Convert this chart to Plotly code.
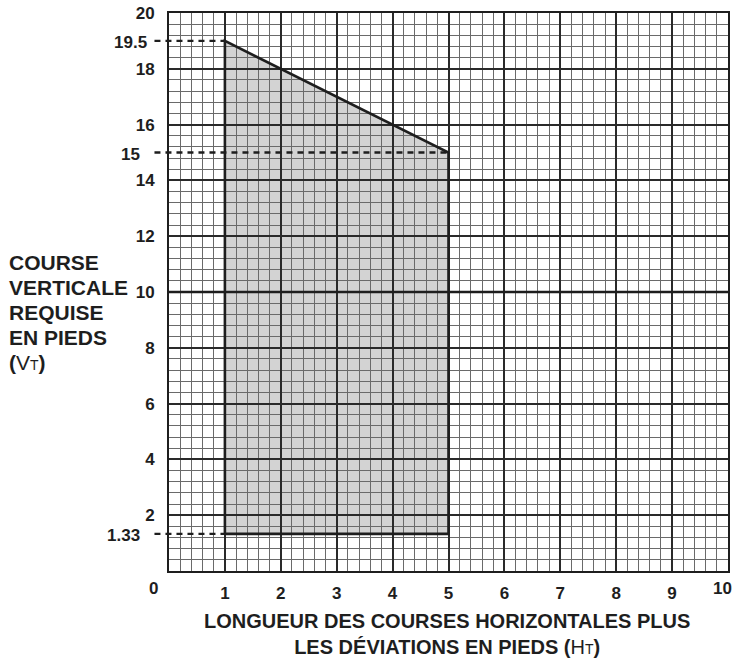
import plotly.graph_objects as go

# ---- data ----
x_tick_vals = [1, 2, 3, 4, 5, 6, 7, 8, 9]
x_tick_text = ["1", "2", "3", "4", "5", "6", "7", "8", "9"]
x_corner_vals = [0, 10]          # end labels, drawn slightly off the corner
x_corner_text = ["0", "10"]
y_tick_vals = [2, 4, 6, 8, 10, 12, 14, 16, 18, 20]
y_tick_text = ["2", "4", "6", "8", "10", "12", "14", "16", "18", "20"]

# allowed zone polygon (HT, VT) as drawn in the picture
zone_ht = [1, 1, 5, 5, 1]
zone_vt = [1.33, 19.0, 15, 1.33, 1.33]

# reference (dashed) levels: drawn position, label, end of dash along HT
ref_vt = [19.0, 15, 1.33]
ref_label = ["19.5", "15", "1.33"]
ref_end_ht = [1, 5, 1]

y_title_lines = ["<b>COURSE</b>", "<b>VERTICALE</b>", "<b>REQUISE</b>", "<b>EN PIEDS</b>",
                 "<b>(</b>V<span style='font-size:14px'>T</span><b>)</b>"]

X_RANGE = [0, 10]
Y_RANGE = [0, 20]

FONT = "Liberation Sans, Arial, Helvetica, sans-serif"
DARK = "#1e1e1e"


def x_to_paper(v):
    return (v - X_RANGE[0]) / (X_RANGE[1] - X_RANGE[0])


fig = go.Figure()

# outline of the zone
fig.add_trace(go.Scatter(
    x=zone_ht, y=zone_vt, mode="lines",
    line=dict(color=DARK, width=2.6),
    hoverinfo="skip", showlegend=False, cliponaxis=False,
))

shapes = []
# filled zone, below the grid
path = "M " + " L ".join(f"{a},{b}" for a, b in zip(zone_ht[:-1], zone_vt[:-1])) + " Z"
shapes.append(dict(type="path", path=path, xref="x", yref="y",
                   fillcolor="#d3d3d3", line=dict(width=0), layer="below"))

# heavier line at VT = 10
shapes.append(dict(type="line", xref="paper", yref="y", x0=0, x1=1, y0=10, y1=10,
                   line=dict(color=DARK, width=2.4), layer="above"))

# dashed reference lines
for v, e in zip(ref_vt, ref_end_ht):
    shapes.append(dict(type="line", xref="paper", yref="y",
                       x0=-0.026, x1=x_to_paper(e), y0=v, y1=v,
                       line=dict(color=DARK, width=2.4, dash="6px,5px"),
                       layer="above"))

TICKFONT = dict(family=FONT, size=17, color=DARK, weight="bold")

annotations = []
label_right = {"19.5": -0.035, "15": -0.049, "1.33": -0.049}
for v, t in zip(ref_vt, ref_label):
    annotations.append(dict(text=t, xref="paper", yref="y", x=label_right[t], y=v,
                            xanchor="right", yanchor="middle", showarrow=False,
                            yshift=-2, font=TICKFONT))

# corner labels of the HT axis
for v, t, s in zip(x_corner_vals, x_corner_text, [-16, -6]):
    annotations.append(dict(text=t, xref="x", yref="paper", x=v, y=0,
                            xanchor="center", yanchor="top", xshift=s, yshift=-6,
                            showarrow=False, font=TICKFONT))

# y-axis title, one line per annotation (25 px line pitch)
n = len(y_title_lines)
for i, line in enumerate(y_title_lines):
    annotations.append(dict(
        text=line, xref="paper", yref="paper", x=-0.289, y=0.4635,
        xanchor="left", yanchor="middle", yshift=(n - 1) / 2 * 25 - i * 25,
        align="left", showarrow=False,
        font=dict(family=FONT, size=21, color=DARK),
    ))

# x-axis title
annotations.append(dict(
    text=("<b>LONGUEUR DES COURSES HORIZONTALES PLUS<br>LES DÉVIATIONS EN PIEDS (</b>H"
          "<span style='font-size:14px'>T</span><b>)</b>"),
    xref="paper", yref="paper", x=0.497, y=0, xanchor="center", yanchor="top",
    yshift=-37, align="center", showarrow=False,
    font=dict(family=FONT, size=20, color=DARK),
))

fig.update_layout(
    width=736, height=662,
    margin=dict(l=169, r=8, t=13, b=91, autoexpand=False),
    paper_bgcolor="white", plot_bgcolor="white",
    shapes=shapes, annotations=annotations,
    showlegend=False,
    font=dict(family=FONT, color=DARK),
)

fig.update_xaxes(
    range=X_RANGE, tickmode="array", tickvals=x_tick_vals, ticktext=x_tick_text,
    showgrid=True, gridcolor="#2a2a2a", gridwidth=1.6,
    minor=dict(tickmode="linear", dtick=0.2, tick0=0, showgrid=True,
               gridcolor="#6a6a6a", gridwidth=1),
    showline=True, linecolor=DARK, linewidth=2, mirror=True,
    ticks="", ticklabelstandoff=6, zeroline=False, automargin=False,
    tickfont=TICKFONT,
)
fig.update_yaxes(
    range=Y_RANGE, tickmode="array", tickvals=y_tick_vals, ticktext=y_tick_text,
    showgrid=True, gridcolor="#2a2a2a", gridwidth=1.6,
    minor=dict(tickmode="linear", dtick=0.4, tick0=0, showgrid=True,
               gridcolor="#6a6a6a", gridwidth=1),
    showline=True, linecolor=DARK, linewidth=2, mirror=True,
    ticks="", ticklabelstandoff=9, zeroline=False, automargin=False,
    tickfont=TICKFONT,
)

# remove the default 8 px page margin so the figure fills the window exactly
fig.write_html(
    "out.html",
    config={"displayModeBar": False},
    post_script="document.body.style.margin='0';document.body.style.overflow='hidden';",
)
